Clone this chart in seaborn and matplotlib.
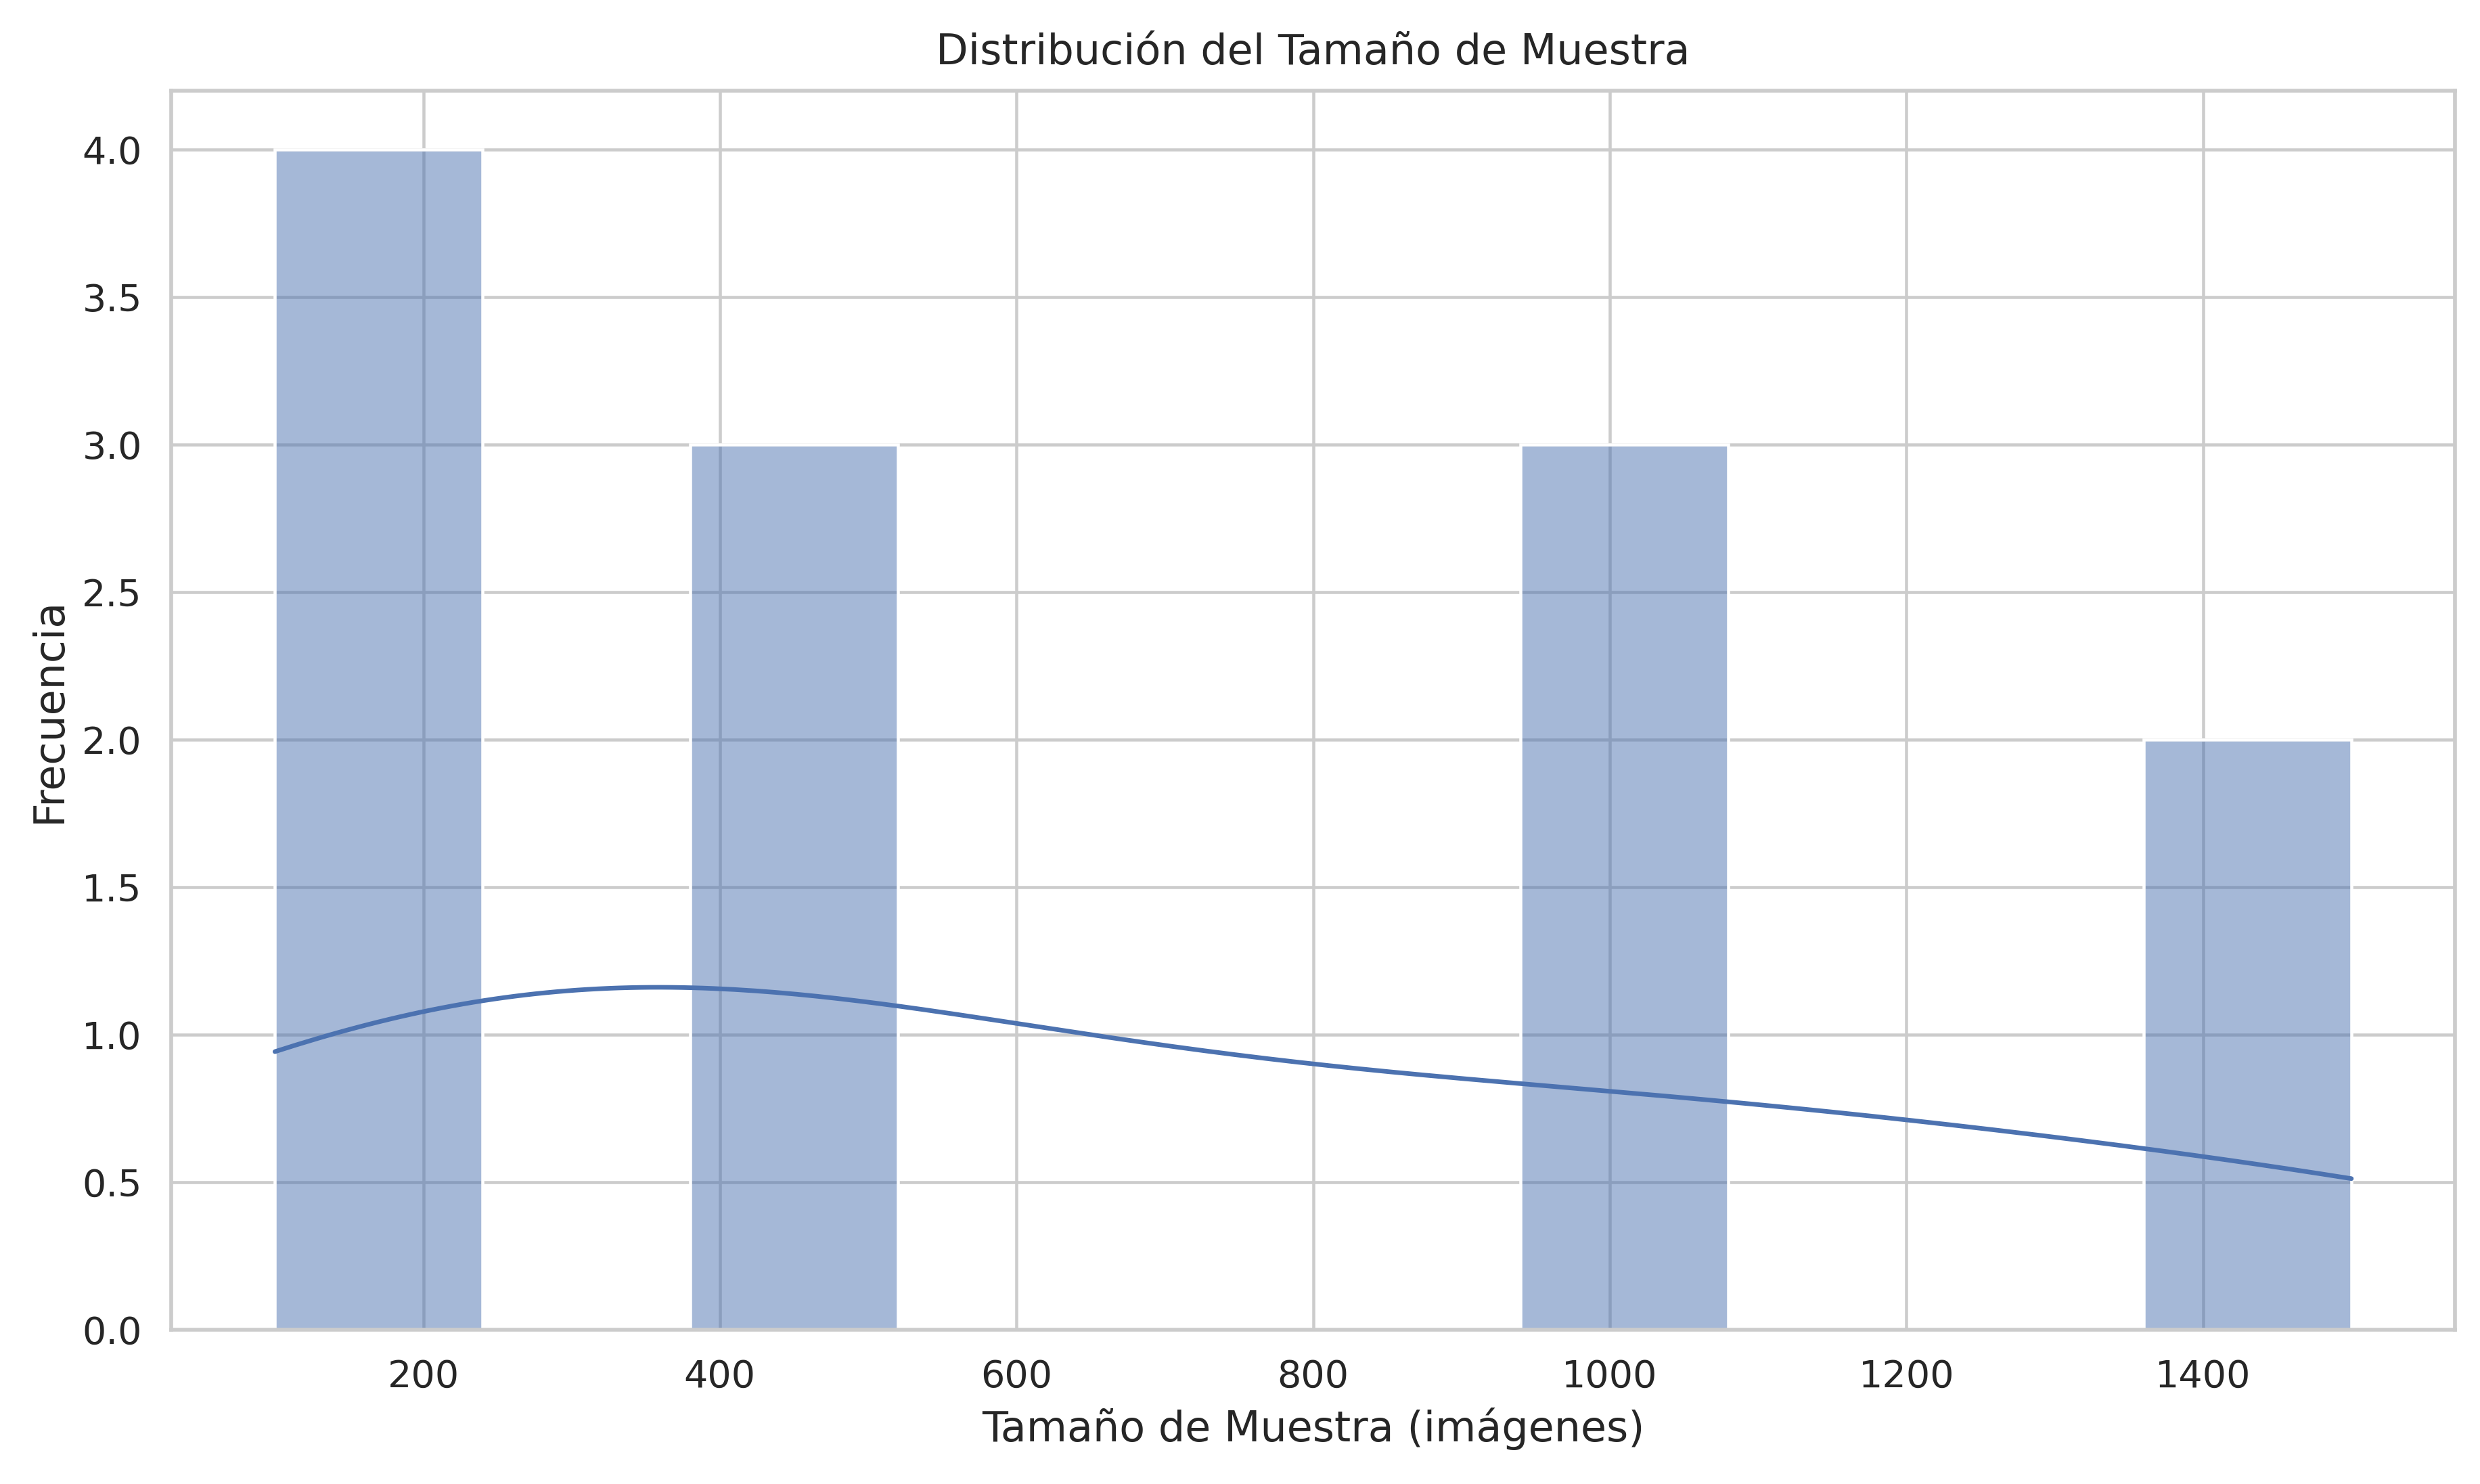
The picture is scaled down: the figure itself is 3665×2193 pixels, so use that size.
import pandas as pd
import numpy as np
import seaborn as sns
import matplotlib
matplotlib.use("Agg")
import matplotlib.pyplot as plt

# tamaños de muestra (imágenes) de los estudios
tamano_muestra = [100, 200, 200, 200, 500, 500, 500, 1000, 1000, 1000, 1500, 1500]

df = pd.DataFrame({"tamano": tamano_muestra})

sns.set_theme(style="whitegrid")

DPI = 326
fig, ax = plt.subplots(figsize=(3665 / DPI, 2193 / DPI), dpi=DPI)
fig.subplots_adjust(left=0.069, right=0.990, top=0.939, bottom=0.104)

sns.histplot(data=df, x="tamano", bins=10, kde=True, ax=ax)

ax.set_title("Distribución del Tamaño de Muestra", fontsize=13.7, pad=8.5)
ax.set_xlabel("Tamaño de Muestra (imágenes)", fontsize=13.7)
ax.set_ylabel("Frecuencia", fontsize=13.7)
ax.tick_params(labelsize=12.3)

fig.savefig("out.png", dpi=DPI)
